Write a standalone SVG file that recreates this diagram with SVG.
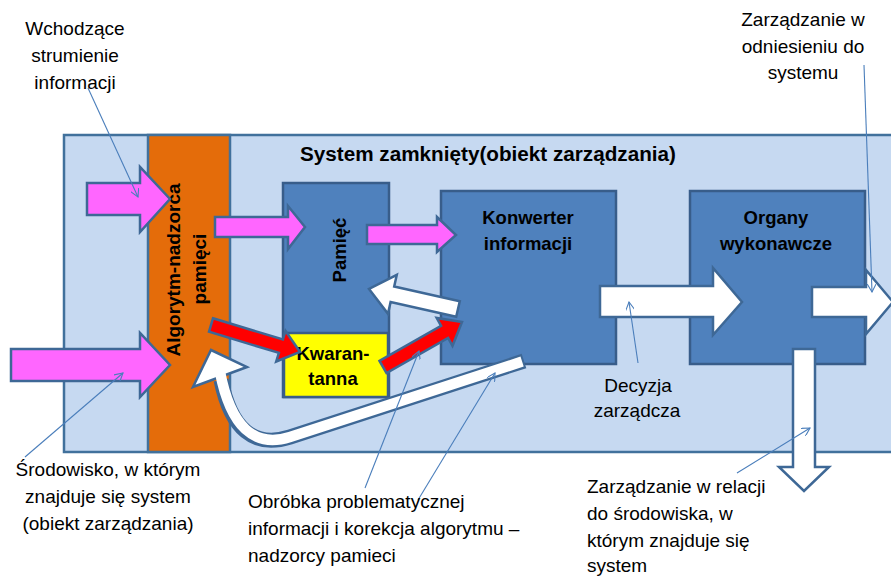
<svg xmlns="http://www.w3.org/2000/svg" width="891" height="577" viewBox="0 0 891 577">
<defs>
<style>
.t{font-family:"Liberation Sans",Arial,sans-serif;font-size:19px;fill:#000}
.b{font-family:"Liberation Sans",Arial,sans-serif;font-weight:bold;font-size:18.5px;fill:#000}
.box{fill:#4f81bd;stroke:#385d8a;stroke-width:2.5}
.pink{fill:#ff66ff;stroke:#3e6896;stroke-width:2.5;stroke-linejoin:miter}
.red{fill:#ff0000;stroke:#3e6896;stroke-width:2.5}
.wh{fill:#ffffff;stroke:#3e6896;stroke-width:2.5}
.ann{fill:none;stroke:#4a7ebb;stroke-width:1.1;marker-end:url(#ah)}
</style>
<marker id="ah" viewBox="0 0 10 10" refX="9" refY="5" markerWidth="9" markerHeight="9" markerUnits="userSpaceOnUse" orient="auto">
<path d="M0,0 L9,5 L0,10" fill="none" stroke="#4a7ebb" stroke-width="1.2"/>
</marker>
</defs>
<rect width="891" height="577" fill="#ffffff"/>

<g id="system">
<rect x="64" y="135" width="840" height="317" fill="#c6d9f1" stroke="#41719c" stroke-width="2.5"/>
<text class="b" x="300" y="161" style="font-size:20px" textLength="376" lengthAdjust="spacingAndGlyphs">System zamknięty(obiekt zarządzania)</text>
</g>

<g id="algorytm">
<rect x="148" y="135" width="82" height="317" fill="#e46c0a" stroke="#41719c" stroke-width="2.5"/>
<text class="b" text-anchor="middle" transform="translate(180,270) rotate(-90)" style="font-size:19px">Algorytm-nadzorca</text>
<text class="b" text-anchor="middle" transform="translate(206,269) rotate(-90)" style="font-size:19px">pamięci</text>
</g>

<g id="pamiec">
<rect class="box" x="283" y="183" width="106" height="214"/>
<text class="b" text-anchor="middle" transform="translate(346,250) rotate(-90)">Pamięć</text>
</g>

<g id="kwarantanna">
<rect x="284" y="333" width="104" height="64" fill="#ffff00" stroke="#385d8a" stroke-width="2.5"/>
<text class="b" x="333" y="360" text-anchor="middle">Kwaran-</text>
<text class="b" x="333" y="385" text-anchor="middle">tanna</text>
</g>

<g id="konwerter">
<rect class="box" x="441" y="191" width="175" height="173"/>
<text class="b" x="528" y="224" text-anchor="middle">Konwerter</text>
<text class="b" x="528" y="250" text-anchor="middle">informacji</text>
</g>

<g id="organy">
<rect class="box" x="690" y="191" width="175" height="173"/>
<text class="b" x="776" y="224" text-anchor="middle">Organy</text>
<text class="b" x="776" y="250" text-anchor="middle">wykonawcze</text>
</g>

<g id="connectors">
<polygon class="pink" points="87,183 140,183 140,167 170,199 140,232 140,215 87,215"/>
<polygon class="pink" points="11,349 140,349 140,333 170,365 140,397 140,381 11,381"/>
<polygon class="pink" points="215,217 288,217 288,206 305,227 288,249 288,237 215,237"/>
<polygon class="pink" points="367,225 437,225 437,217 456,235 437,252 437,244 367,244"/>
<polygon class="red" points="213,318.3 282.9,339.5 285.5,330.9 300,352 276.2,361.5 278.9,352.9 209,331.7"/>
<polygon class="red" points="379.5,360.9 441.1,325.8 436.7,318 462,322 452.5,345.8 448.1,338 386.5,373.1"/>
<polygon class="wh" points="459.8,301.2 394.2,286.5 396.8,274.8 369,289 388,313.8 390.6,302.1 456.2,316.8"/>
<polygon class="wh" points="600,286 713,286 713,268 742,302 713,335 713,317 600,317"/>
<polygon class="wh" points="812,287 866,287 866,270 893,302 866,334 866,317 812,317"/>
<polygon class="wh" points="793,349 815,349 815,467 829,467 804,491 779,467 793,467"/>
<path d="M524,361 L290,437 Q236,454 221,380" fill="none" stroke="#3e6896" stroke-width="15"/>
<polygon class="wh" points="211,350 247,367 193,387"/>
<path d="M522.1,361.6 L290,437 Q236,454 220,372" fill="none" stroke="#ffffff" stroke-width="10.5"/>
<line class="ann" x1="88" y1="88" x2="138" y2="197"/>
<line class="ann" x1="25" y1="457" x2="123" y2="373"/>
<line class="ann" x1="365" y1="488" x2="419" y2="351"/>
<line class="ann" x1="418" y1="500" x2="495" y2="373"/>
<line class="ann" x1="638" y1="363" x2="629" y2="302"/>
<line class="ann" x1="737" y1="473" x2="810" y2="428"/>
<line class="ann" x1="864" y1="65" x2="872" y2="292"/>
</g>

<g id="labels">
<text class="t" text-anchor="middle"><tspan x="75" y="35">Wchodzące</tspan><tspan x="75" y="62">strumienie</tspan><tspan x="75" y="89">informacji</tspan></text>
<text class="t" text-anchor="middle"><tspan x="803" y="26">Zarządzanie w</tspan><tspan x="803" y="53">odniesieniu do</tspan><tspan x="803" y="79">systemu</tspan></text>
<text class="t" text-anchor="middle"><tspan x="108" y="476">Środowisko, w którym</tspan><tspan x="108" y="503">znajduje się system</tspan><tspan x="108" y="530">(obiekt zarządzania)</tspan></text>
<text class="t"><tspan x="248" y="508">Obróbka problematycznej</tspan><tspan x="248" y="535">informacji i korekcja algorytmu –</tspan><tspan x="248" y="562">nadzorcy pamieci</tspan></text>
<text class="t" text-anchor="middle"><tspan x="638" y="392">Decyzja</tspan><tspan x="637" y="417">zarządcza</tspan></text>
<text class="t"><tspan x="587" y="493">Zarządzanie w relacji</tspan><tspan x="587" y="520">do środowiska, w</tspan><tspan x="587" y="547">którym znajduje się</tspan><tspan x="587" y="572">system</tspan></text>
</g>
</svg>
